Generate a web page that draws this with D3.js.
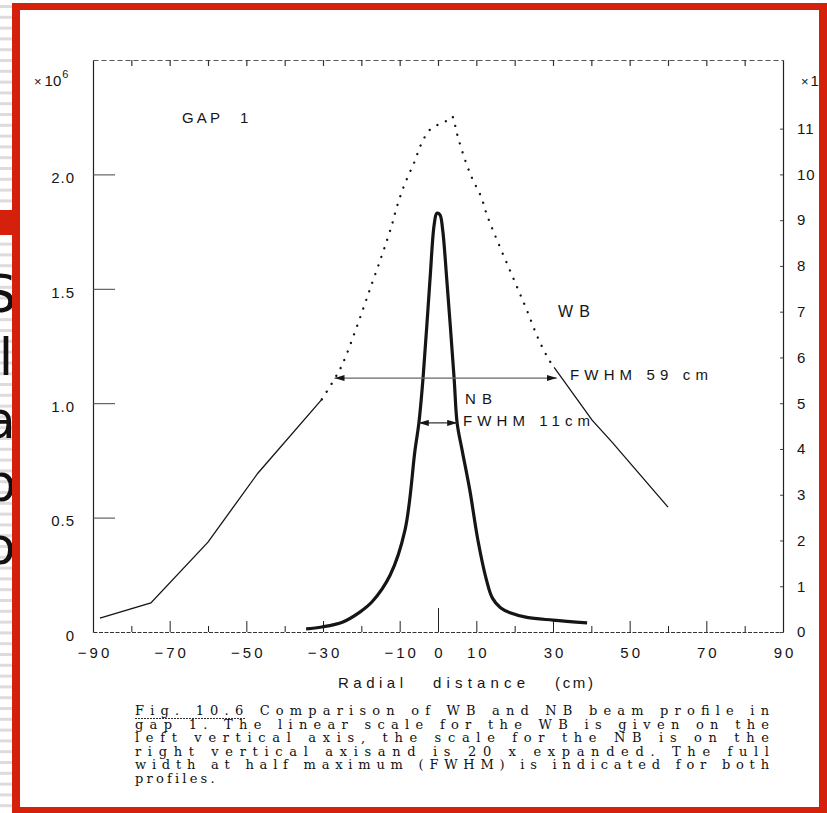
<!DOCTYPE html>
<html>
<head>
<meta charset="utf-8">
<script src="https://cdn.jsdelivr.net/npm/d3@7"></script>
<style>
  html, body { margin: 0; padding: 0; background: #fff; }
  svg { display: block; }
</style>
</head>
<body>
<svg id="fig" width="827" height="813"></svg>
<script>
// ---- data ----
// WB profile, left axis (x 10^6); [radial cm, value]
const wbLeft = [[-88.2, 0.061], [-74.9, 0.127], [-60.0, 0.393], [-47.0, 0.694], [-30.3, 1.017]];
const wbDotted = [
    [-30.3, 1.017], [-26.9, 1.109], [-24.8, 1.175], [-17.2, 1.524], [-12.3, 1.764], [-10.7, 1.860],
    [-8.6, 1.961], [-6.3, 2.048], [-4.4, 2.131], [-2.3, 2.192], [0.1, 2.218], [2.9, 2.240],
    [3.7, 2.253], [5.0, 2.175], [7.0, 2.066], [8.9, 1.983], [11.2, 1.904], [13.0, 1.812],
    [20.1, 1.528], [23.2, 1.406], [26.1, 1.284], [29.0, 1.188], [30.3, 1.157]
];
const wbRight = [[30.3, 1.157], [40.2, 0.926], [45.4, 0.830], [60.0, 0.546]];

// NB profile, right axis (20x expanded)
const nbProfile = [
    [-34.4, 0.07], [-30.3, 0.11], [-24.8, 0.22], [-20.3, 0.44], [-17.2, 0.66], [-12.5, 1.24],
    [-8.6, 2.23], [-6.0, 3.97], [-5.0, 4.56], [-3.9, 5.55], [-2.1, 7.69], [-1.0, 8.90],
    [-0.3, 9.15], [0.5, 9.12], [1.2, 8.80], [2.3, 7.69], [4.2, 5.55], [5.0, 4.56], [6.3, 3.97],
    [8.3, 3.10], [10.4, 2.01], [12.6, 1.15], [14.2, 0.74], [16.3, 0.53], [18.8, 0.42],
    [23.2, 0.32], [30.0, 0.26], [38.9, 0.20]
];

// FWHM markers
const wbFwhm = [-27, 31];
const wbHalf = 1.11;
const nbFwhm = [-5, 5];
const nbHalf = 4.57;

// ticks
const xTickValues = d3.range(-90, 91, 10);
const xLabels = [-90, -70, -50, -30, -10, 0, 10, 30, 50, 70, 90];
const leftTicks = [0, 0.5, 1.0, 1.5, 2.0];
const rightTicks = d3.range(0, 12);

const captionLines = [
    'Fig. 10.6  Comparison of WB and NB beam profile in',
    'gap 1. The linear scale for the WB is given on the',
    'left vertical axis, the scale for the NB is on the',
    'right vertical axisand is 20 x expanded.  The full',
    'width at half maximum (FWHM) is indicated for both',
    'profiles.'
];

// slide text fragments peeking out at the left edge
const slideGlyphs = ['S', 'l', 'a', 'p', 'o'];

// ---- layout ----
const W = 827, H = 813;
const plot = { left: 93, right: 783, top: 60, bottom: 632 };
const RED = '#d5200c';
const INK = '#151515';
const SANS = '"Liberation Sans", Arial, sans-serif';

const svg = d3.select('#fig');

const x = d3.scaleLinear().domain([-90, 90]).range([plot.left, plot.right]);
const yL = d3.scaleLinear().domain([0, 2.5]).range([plot.bottom, plot.top]);
const yR = d3.scaleLinear().domain([0, 12.5]).range([plot.bottom, plot.top]);

svg.append('rect').attr('width', W).attr('height', H).attr('fill', '#fff');

// slide background bits on the far left
svg.append('g')
    .selectAll('rect')
    .data(d3.range(5, H, 10.8))
    .join('rect')
    .attr('x', 0).attr('y', d => d).attr('width', 13).attr('height', 3)
    .attr('fill', '#dcdcdc');

svg.append('g')
    .selectAll('text')
    .data(slideGlyphs)
    .join('text')
    .attr('x', (d, i) => i === 1 ? 6 : 0)
    .attr('y', (d, i) => 312 + i * 63)
    .attr('text-anchor', 'middle')
    .attr('font-family', '"DejaVu Sans", sans-serif')
    .attr('font-size', 52)
    .attr('fill', '#111')
    .text(d => d);

svg.append('rect').attr('x', 0).attr('y', 210).attr('width', 20).attr('height', 25).attr('fill', RED);

// ---- defs ----
const defs = svg.append('defs');
defs.append('marker')
    .attr('id', 'arr')
    .attr('viewBox', '0 0 10 6')
    .attr('refX', 10).attr('refY', 3)
    .attr('markerWidth', 10).attr('markerHeight', 6)
    .attr('markerUnits', 'userSpaceOnUse')
    .attr('orient', 'auto-start-reverse')
    .append('path')
    .attr('d', 'M0,0 L10,3 L0,6 Z')
    .attr('fill', INK);

// ---- axes ----
const fontAxis = g => g.selectAll('text')
    .attr('font-family', SANS)
    .attr('font-size', 15)
    .attr('fill', INK)
    .attr('letter-spacing', 3);

// bottom
const gBottom = svg.append('g')
    .attr('transform', `translate(0,${plot.bottom})`)
    .call(d3.axisBottom(x)
        .tickValues(xTickValues)
        .tickSizeOuter(0)
        .tickSizeInner(-6)
        .tickPadding(15)
        .tickFormat(d => xLabels.includes(d) ? (d < 0 ? '\u2212' + Math.abs(d) : d) : ''));
gBottom.select('.domain').attr('stroke', '#333').attr('stroke-dasharray', '4,1.5');
gBottom.selectAll('.tick line')
    .attr('stroke', '#222')
    .attr('y2', d => {
        if (Math.abs(d) === 90) return 0;
        if (d === 0) return -24;
        return (Math.abs(d) / 10) % 2 === 1 ? -11 : -6;
    });
gBottom.call(fontAxis);
gBottom.selectAll('text').attr('dx', '1.5');

// top
const gTop = svg.append('g')
    .attr('transform', `translate(0,${plot.top})`)
    .call(d3.axisTop(x).tickValues(d3.range(-80, 81, 10)).tickSizeOuter(0).tickSizeInner(-6).tickFormat(''));
gTop.select('.domain').attr('stroke', '#555').attr('stroke-dasharray', '5,3');
gTop.selectAll('.tick line').attr('stroke', '#333').attr('stroke-width', 1.2);

// left
const gLeft = svg.append('g')
    .attr('transform', `translate(${plot.left},0)`)
    .call(d3.axisLeft(yL)
        .tickValues(leftTicks)
        .tickSizeOuter(0)
        .tickSizeInner(-22)
        .tickPadding(18)
        .tickFormat(d => d === 0 ? '0' : d3.format('.1f')(d)));
gLeft.select('.domain').attr('stroke', '#222').attr('stroke-width', 1.2);
gLeft.selectAll('.tick line').attr('stroke', '#444').attr('x2', d => d === 0 ? 0 : 22);
gLeft.call(fontAxis);
gLeft.selectAll('text').attr('dy', '0.55em').attr('letter-spacing', 1);

// right
const gRight = svg.append('g')
    .attr('transform', `translate(${plot.right},0)`)
    .call(d3.axisRight(yR)
        .tickValues(rightTicks)
        .tickSizeOuter(0)
        .tickSizeInner(-3)
        .tickPadding(14));
gRight.select('.domain').attr('stroke', '#222').attr('stroke-width', 1.2);
gRight.selectAll('.tick line').attr('stroke', '#444');
gRight.call(fontAxis);
gRight.selectAll('text').attr('letter-spacing', 1);

// scale multipliers
const mulL = svg.append('text').attr('x', 34).attr('y', 86)
    .attr('font-family', SANS).attr('fill', INK);
mulL.append('tspan').attr('font-size', 13).text('\u00d7');
mulL.append('tspan').attr('font-size', 15).attr('dx', 3).text('10');
mulL.append('tspan').attr('font-size', 11).attr('dy', -8).attr('dx', 1).text('6');

const mulR = svg.append('text').attr('x', 801).attr('y', 86)
    .attr('font-family', SANS).attr('fill', INK);
mulR.append('tspan').attr('font-size', 13).text('\u00d7');
mulR.append('tspan').attr('font-size', 15).attr('dx', 2).text('10');
mulR.append('tspan').attr('font-size', 11).attr('dy', -8).text('5');

// axis title
const title = svg.append('text').attr('y', 688)
    .attr('font-family', SANS).attr('font-size', 15).attr('fill', INK);
title.append('tspan').attr('x', 338).attr('textLength', 65).attr('lengthAdjust', 'spacing').text('Radial');
title.append('tspan').attr('x', 433).attr('textLength', 92).attr('lengthAdjust', 'spacing').text('distance');
title.append('tspan').attr('x', 555).attr('textLength', 38).attr('lengthAdjust', 'spacing').text('(cm)');

// ---- curves ----
const lineL = d3.line().x(d => x(d[0])).y(d => yL(d[1]));
const lineR = d3.line().x(d => x(d[0])).y(d => yR(d[1])).curve(d3.curveCatmullRom.alpha(0.5));

svg.append('path').datum(wbLeft).attr('d', lineL)
    .attr('fill', 'none').attr('stroke', INK).attr('stroke-width', 1.3);
svg.append('path').datum(wbRight).attr('d', lineL)
    .attr('fill', 'none').attr('stroke', INK).attr('stroke-width', 1.3);
svg.append('path').datum(wbDotted).attr('d', lineL.curve(d3.curveCatmullRom.alpha(0.5)))
    .attr('fill', 'none').attr('stroke', INK).attr('stroke-width', 2.3)
    .attr('stroke-linecap', 'round').attr('stroke-dasharray', '0.1,9');

svg.append('path').datum(nbProfile).attr('d', lineR)
    .attr('fill', 'none').attr('stroke', INK).attr('stroke-width', 3.2)
    .attr('stroke-linejoin', 'round');

// FWHM arrows
svg.append('line')
    .attr('x1', x(wbFwhm[0])).attr('x2', x(wbFwhm[1]))
    .attr('y1', yL(wbHalf)).attr('y2', yL(wbHalf))
    .attr('stroke', '#666').attr('stroke-width', 1.2)
    .attr('marker-start', 'url(#arr)').attr('marker-end', 'url(#arr)');
svg.append('line')
    .attr('x1', x(nbFwhm[0])).attr('x2', x(nbFwhm[1]))
    .attr('y1', yR(nbHalf)).attr('y2', yR(nbHalf))
    .attr('stroke', '#333').attr('stroke-width', 1.2)
    .attr('marker-start', 'url(#arr)').attr('marker-end', 'url(#arr)');

// ---- annotations ----
const note = (px, py, str, len, size) => svg.append('text')
    .attr('x', px).attr('y', py)
    .attr('font-family', SANS).attr('font-size', size || 15).attr('fill', INK)
    .attr('textLength', len).attr('lengthAdjust', 'spacing')
    .text(str);

note(182, 123, 'GAP', 38);
note(240, 123, '1', 10);
note(558, 317, 'WB', 32, 16);
note(570, 380, 'FWHM 59 cm', 138);
note(465, 404, 'NB', 27);
note(463, 426, 'FWHM 11cm', 127);

// ---- caption ----
const cap = svg.append('g')
    .attr('font-family', '"DejaVu Serif", serif')
    .attr('font-size', 13)
    .attr('fill', '#111');
cap.selectAll('text')
    .data(captionLines)
    .join('text')
    .attr('x', 135)
    .attr('y', (d, i) => 715 + i * 13.6)
    .attr('textLength', d => d.length >= 40 ? 634 : null)
    .attr('lengthAdjust', 'spacing')
    .attr('letter-spacing', d => d.length >= 40 ? null : 3.2)
    .text(d => d);
cap.append('line')
    .attr('x1', 135).attr('x2', 246).attr('y1', 718.5).attr('y2', 718.5)
    .attr('stroke', '#333').attr('stroke-width', 1).attr('stroke-dasharray', '2,1');

// ---- slide frame ----
const frame = svg.append('g').attr('fill', RED);
frame.append('rect').attr('x', 12).attr('y', 3).attr('width', W - 12).attr('height', 7);
frame.append('rect').attr('x', 12).attr('y', 3).attr('width', 8).attr('height', H - 3);
frame.append('rect').attr('x', 819).attr('y', 3).attr('width', 8).attr('height', H - 3);
frame.append('rect').attr('x', 12).attr('y', 807).attr('width', W - 12).attr('height', 6);
</script>
</body>
</html>
